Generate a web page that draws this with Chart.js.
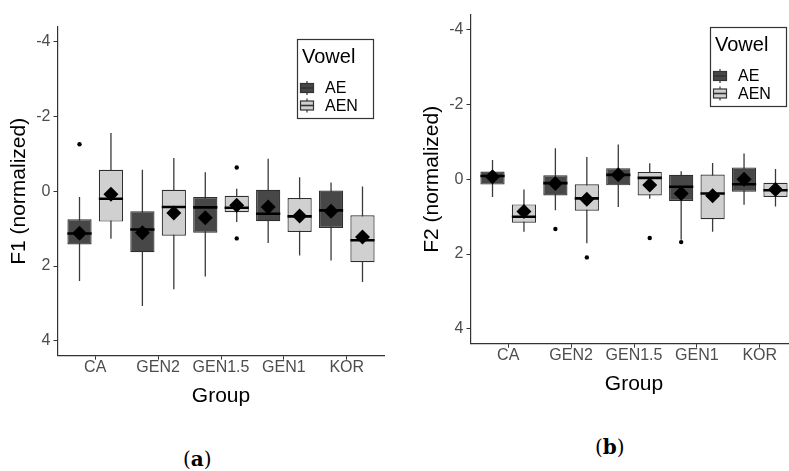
<!DOCTYPE html>
<html>
<head>
<meta charset="utf-8">
<script src="https://cdn.jsdelivr.net/npm/chart.js@4/dist/chart.umd.min.js"></script>
<style>
  body { margin: 0; width: 789px; height: 471px; overflow: hidden; background: #fff; position: relative; }
  .panel { position: absolute; width: 392px; height: 420px; }
  #p1 { left: 0; top: 0; }
  #p2 { left: 413px; top: -12px; }
  .cap { position: absolute; font-family: "DejaVu Serif", serif; font-size: 20px; line-height: 24px; color: #000; }
  .cap b { font-weight: bold; }
</style>
</head>
<body>
<canvas id="p1" class="panel" width="392" height="420"></canvas>
<canvas id="p2" class="panel" width="392" height="420"></canvas>
<div class="cap" style="left:183px;top:447px">(<b>a</b>)</div>
<div class="cap" style="left:595px;top:435px">(<b>b</b>)</div>
<script>
// groups on the x axis, vowels in the legend
const groups = ['CA', 'GEN2', 'GEN1.5', 'GEN1', 'KOR'];
const vowels = ['AE', 'AEN'];
const yTicks = [-4, -2, 0, 2, 4];

// box stats per group: [whisker min, q1, median, q3, whisker max]
const f1AE  = [[0.15, 0.75, 1.13, 1.42, 2.40], [-0.58, 0.53, 1.02, 1.63, 3.07], [-0.51, 0.15, 0.43, 1.11, 2.28], [-0.87, -0.04, 0.60, 0.80, 1.38], [-0.24, -0.02, 0.51, 0.98, 1.85]];
const f1AEN = [[-1.56, -0.58, 0.20, 0.81, 1.27], [-0.89, -0.04, 0.42, 1.19, 2.62], [-0.07, 0.12, 0.44, 0.56, 0.82], [-0.38, 0.18, 0.67, 1.09, 1.72], [-0.13, 0.64, 1.31, 1.90, 2.43]];
const f1AEMean  = [1.12, 1.11, 0.71, 0.42, 0.53];
const f1AENMean = [0.08, 0.58, 0.37, 0.66, 1.22];
const f1AEOut  = [[-1.26], [], [], [], []];
const f1AENOut = [[], [], [-0.64, 1.26], [], []];

const f2AE  = [[-0.52, -0.21, -0.09, 0.14, 0.47], [-0.83, -0.11, 0.10, 0.43, 0.83], [-0.93, -0.30, -0.12, 0.16, 0.74], [-0.22, -0.12, 0.20, 0.58, 1.62], [-0.69, -0.32, 0.13, 0.33, 0.68]];
const f2AEN = [[0.27, 0.67, 1.00, 1.16, 1.40], [-0.60, 0.13, 0.51, 0.84, 1.71], [-0.43, -0.20, -0.04, 0.43, 0.52], [-0.44, -0.13, 0.38, 1.07, 1.40], [-0.28, 0.09, 0.29, 0.47, 0.73]];
const f2AEMean  = [-0.07, 0.11, -0.12, 0.38, 0.00];
const f2AENMean = [0.86, 0.53, 0.15, 0.44, 0.27];
const f2AEOut  = [[], [1.33], [], [1.68], []];
const f2AENOut = [[], [2.09], [1.57], [], []];

const fills = ['#474747', '#d0d0d0'];
const dodge = 0.25;     // box centre offset from group centre
const half = 0.1925;    // half box width, in group units

Chart.defaults.font.family = '"Liberation Sans", Arial, sans-serif';

// legend drawn inside the plot, top right, ggplot style
const vowelLegend = {
  id: 'vowelLegend',
  afterDraw(chart) {
    const ctx = chart.ctx;
    const area = chart.chartArea;
    const w = 76, h = 79;
    const x0 = Math.round(area.right - 12 - w), y0 = Math.round(area.top + 12);
    ctx.save();
    ctx.fillStyle = '#fff';
    ctx.fillRect(x0, y0, w, h);
    ctx.strokeStyle = '#333';
    ctx.lineWidth = 1.2;
    ctx.strokeRect(x0 + 0.5, y0 + 0.5, w, h);
    ctx.fillStyle = '#000';
    ctx.font = '20px "Liberation Sans", Arial, sans-serif';
    ctx.textBaseline = 'alphabetic';
    ctx.fillText('Vowel', x0 + 5, y0 + 24);
    vowels.forEach((v, i) => {
      const cy = y0 + 49 + i * 17.5;
      ctx.strokeStyle = '#333';
      ctx.lineWidth = 1.2;
      ctx.beginPath();
      ctx.moveTo(x0 + 10, cy - 7);
      ctx.lineTo(x0 + 10, cy + 7);
      ctx.stroke();
      ctx.fillStyle = fills[i];
      ctx.fillRect(x0 + 3.5, cy - 4.5, 13, 9);
      ctx.strokeRect(x0 + 3.5, cy - 4.5, 13, 9);
      ctx.lineWidth = 1.6;
      ctx.beginPath();
      ctx.moveTo(x0 + 3.5, cy);
      ctx.lineTo(x0 + 16.5, cy);
      ctx.stroke();
      ctx.fillStyle = '#000';
      ctx.font = '16px "Liberation Sans", Arial, sans-serif';
      ctx.textBaseline = 'middle';
      ctx.fillText(v, x0 + 28, cy + 1);
    });
    ctx.restore();
  }
};

function makeChart(id, boxAE, boxAEN, meanAE, meanAEN, outAE, outAEN, yTitle) {
  const sets = [boxAE, boxAEN];
  const whiskers = [], medians = [], means = [], outliers = [];
  sets.forEach((stats, v) => {
    const off = v === 0 ? -dodge : dodge;
    stats.forEach((s, i) => {
      const c = i + off;
      whiskers.push({ x: c, y: s[0] }, { x: c, y: s[4] }, { x: c, y: null });
      medians.push({ x: c - half, y: s[2] }, { x: c + half, y: s[2] }, { x: c, y: null });
    });
  });
  [meanAE, meanAEN].forEach((m, v) => {
    const off = v === 0 ? -dodge : dodge;
    m.forEach((val, i) => means.push({ x: i + off, y: val }));
  });
  [outAE, outAEN].forEach((o, v) => {
    const off = v === 0 ? -dodge : dodge;
    o.forEach((list, i) => list.forEach(val => outliers.push({ x: i + off, y: val })));
  });

  const boxData = (stats, off) => stats.map((s, i) => ({ x: i + off, y: [s[1], s[3]] }));

  return new Chart(document.getElementById(id), {
    type: 'bar',
    data: {
      datasets: [
        { type: 'scatter', data: means, pointStyle: 'rectRot', pointRadius: 7.5, backgroundColor: '#000', borderColor: '#000', borderWidth: 0 },
        { type: 'scatter', data: outliers, pointStyle: 'circle', pointRadius: 2.2, backgroundColor: '#000', borderWidth: 0 },
        { type: 'line', data: medians, borderColor: '#000', borderWidth: 2.6, pointRadius: 0, spanGaps: false, borderCapStyle: 'butt' },
        { label: vowels[0], data: boxData(boxAE, -dodge), backgroundColor: fills[0], borderColor: '#2e2e2e', borderWidth: 1.2, borderSkipped: false, grouped: false, categoryPercentage: 1, barPercentage: 0.77 },
        { label: vowels[1], data: boxData(boxAEN, dodge), backgroundColor: fills[1], borderColor: '#2e2e2e', borderWidth: 1.2, borderSkipped: false, grouped: false, categoryPercentage: 1, barPercentage: 0.77 },
        { type: 'line', data: whiskers, borderColor: '#3a3a3a', borderWidth: 1.3, pointRadius: 0, spanGaps: false }
      ]
    },
    options: {
      responsive: false,
      animation: false,
      events: [],
      layout: { padding: { top: 27, right: 5.3, left: 0, bottom: 0 } },
      plugins: { legend: { display: false }, tooltip: { enabled: false } },
      scales: {
        x: {
          type: 'linear',
          min: -0.6,
          max: groups.length - 0.4,
          offset: false,
          afterBuildTicks: axis => { axis.ticks = groups.map((g, i) => ({ value: i })); },
          afterFit: axis => { axis.height = 64.3; },
          ticks: {
            callback: v => groups[v],
            color: '#4d4d4d',
            font: { size: 16, lineHeight: 1 },
            padding: 0,
            maxRotation: 0,
            autoSkip: false
          },
          grid: { drawOnChartArea: false, drawTicks: true, tickLength: 4, color: '#333', offset: false },
          border: { display: true, color: '#333', width: 1.2 },
          title: { display: true, text: 'Group', color: '#000', font: { size: 21 }, padding: { top: 0, bottom: 10.7 } }
        },
        y: {
          type: 'linear',
          reverse: true,
          min: -4.4,
          max: 4.4,
          afterBuildTicks: axis => { axis.ticks = yTicks.map(v => ({ value: v })); },
          afterFit: axis => { axis.width = 57.5; },
          ticks: { color: '#4d4d4d', font: { size: 16 }, padding: 3 },
          grid: { drawOnChartArea: false, drawTicks: true, tickLength: 4, color: '#333' },
          border: { display: true, color: '#333', width: 1.2 },
          title: { display: true, text: yTitle, color: '#000', font: { size: 21 }, padding: { top: 7, bottom: 0 } }
        }
      }
    },
    plugins: [vowelLegend]
  });
}

makeChart('p1', f1AE, f1AEN, f1AEMean, f1AENMean, f1AEOut, f1AENOut, 'F1 (normalized)');
makeChart('p2', f2AE, f2AEN, f2AEMean, f2AENMean, f2AEOut, f2AENOut, 'F2 (normalized)');
</script>
</body>
</html>
